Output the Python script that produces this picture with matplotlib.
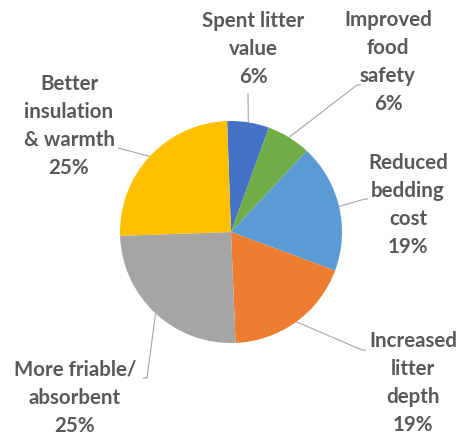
import numpy as np
import matplotlib
matplotlib.use("Agg")
import matplotlib.pyplot as plt

# --- data ---
categories = ["Spent litter\nvalue", "Improved\nfood\nsafety", "Reduced\nbedding\ncost",
              "Increased\nlitter\ndepth", "More friable/\nabsorbent", "Better\ninsulation\n& warmth"]
shares = [6.1, 6.4, 18.7, 18.7, 25.1, 25.0]
colors = ["#4472C4", "#70AD47", "#5B9BD5", "#ED7D31", "#A5A5A5", "#FFC000"]

# --- layout (pixels in the 460x437 picture) ---
W, H = 460, 437
CX, CY, R = 231, 232, 111
# label block centres and where the leader line ends
label_pos = [(253, 49), (388, 62), (408, 205), (413, 383), (75, 398), (69, 126)]
leader_end = [(248, 93), (357, 85), (365, 199), (362, 350), (147, 378), (118, 148)]
leader_tick = [None, (361, 85), (368, 199), (366, 350), (143, 378), None]


def px(p):
    return ((p[0] - CX) / R, (CY - p[1]) / R)


fig = plt.figure(figsize=(W / 100, H / 100), dpi=100)
ax = fig.add_axes([0, 0, 1, 1])

wedges, _ = ax.pie(shares, colors=colors, startangle=92, counterclock=False,
                   radius=1, center=(0, 0), wedgeprops=dict(linewidth=0))

# pie() resets the limits, so set them afterwards
ax.set_xlim(-CX / R, (W - CX) / R)
ax.set_ylim(-(H - CY) / R, CY / R)
ax.set_aspect("equal")
ax.axis("off")

total = sum(shares)
for w, cat, val, lp, le, lt in zip(wedges, categories, shares, label_pos, leader_end, leader_tick):
    mid = np.deg2rad((w.theta1 + w.theta2) / 2)
    start = (np.cos(mid), np.sin(mid))
    end = px(le)
    xs, ys = [start[0], end[0]], [start[1], end[1]]
    if lt is not None:
        t = px(lt)
        xs.append(t[0])
        ys.append(t[1])
    ax.plot(xs, ys, color="#A6A6A6", linewidth=0.8, solid_capstyle="butt")
    pct = round(val / total * 100)
    tx, ty = px(lp)
    ax.text(tx, ty, f"{cat}\n{pct}%", ha="center", va="center", fontsize=14.8,
            fontweight="bold", color="#595959", family="Lato", linespacing=1.5)

fig.savefig("out.png", dpi=100)
